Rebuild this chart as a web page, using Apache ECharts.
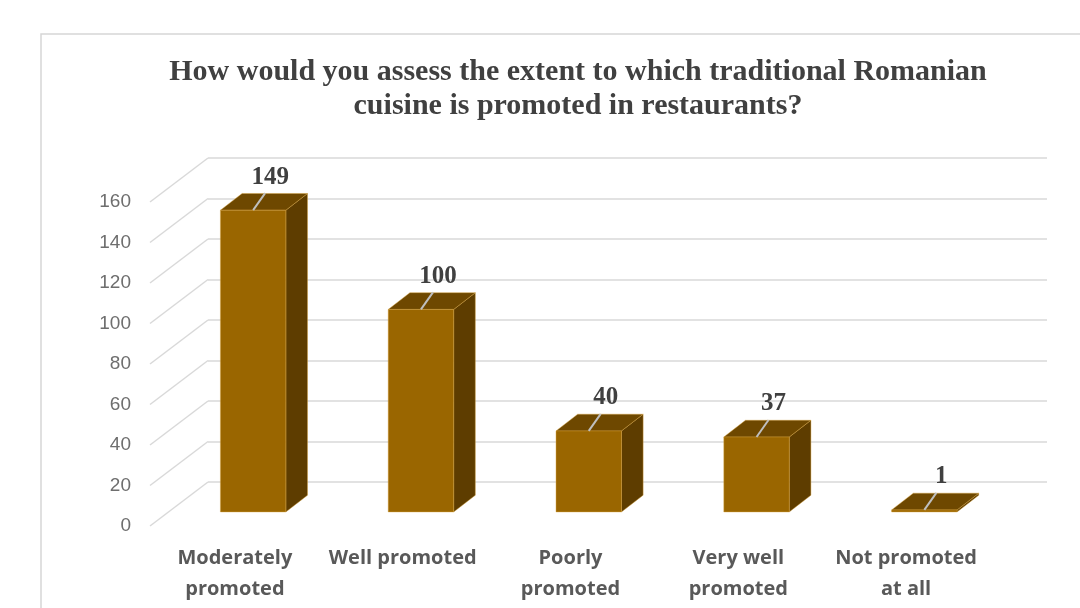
<!DOCTYPE html>
<html>
<head>
<meta charset="utf-8">
<title>Traditional Romanian cuisine in restaurants</title>
<script src="https://cdn.jsdelivr.net/npm/echarts@6/dist/echarts.min.js"></script>
<style>
  html, body { margin: 0; padding: 0; background: #ffffff; }
  #chart { width: 1080px; height: 608px; }
</style>
</head>
<body>
<div id="chart"></div>
<script>
// Survey answers and counts
const categories = [
  'Moderately\npromoted',
  'Well promoted',
  'Poorly\npromoted',
  'Very well\npromoted',
  'Not promoted\nat all'
];
const responses = [149, 100, 40, 37, 1];
const yTicks = [0, 20, 40, 60, 80, 100, 120, 140, 160];

// Oblique depth of the 3D box (front plane -> back wall), in pixels
const DEPTH_X = 57;
const DEPTH_Y = -44;
const BAR_FRONT = 0.32;   // depth fraction of bar front face
const BAR_BACK = 0.70;    // depth fraction of bar back face

const FRONT = { left: 151, right: 90, top: 202, bottom: 82 };
const BACK = {
  left: FRONT.left + DEPTH_X,
  right: FRONT.right - DEPTH_X,
  top: FRONT.top + DEPTH_Y,
  bottom: FRONT.bottom - DEPTH_Y
};

const TITLE_FONT = 'bold 30px "Liberation Serif", "Times New Roman", serif';

const chart = echarts.init(document.getElementById('chart'));

function renderWallDiagonal(params, api) {
  const y = api.coord([0, api.value(0)])[1];
  const x0 = params.coordSys.x - 1;
  return {
    type: 'line',
    shape: { x1: x0, y1: y, x2: x0 + DEPTH_X + 1, y2: y + DEPTH_Y },
    style: { stroke: '#d9d9d9', lineWidth: 1.5 },
    silent: true
  };
}

function renderBar(params, api) {
  const cat = api.value(0);
  const val = api.value(1);
  const base = api.coord([cat, 0]);
  const top = api.coord([cat, val]);
  const bw = api.size([1, 0])[0] * 0.39;
  const fx = DEPTH_X * BAR_FRONT, fy = DEPTH_Y * BAR_FRONT;
  const bx = DEPTH_X * BAR_BACK, by = DEPTH_Y * BAR_BACK;
  const xl = base[0] - bw / 2, xr = base[0] + bw / 2;
  const yb = base[1], yt = top[1];
  const cx = base[0] + fx, cy = yt + fy;
  const edge = 'rgba(214,160,60,0.55)';
  return {
    type: 'group',
    children: [
      {
        type: 'polygon',
        shape: { points: [[xr + fx, yt + fy], [xr + bx, yt + by], [xr + bx, yb + by], [xr + fx, yb + fy]] },
        style: { fill: '#5e3d00', stroke: edge, lineWidth: 0.8 }
      },
      {
        type: 'polygon',
        shape: { points: [[xl + fx, yt + fy], [xr + fx, yt + fy], [xr + bx, yt + by], [xl + bx, yt + by]] },
        style: { fill: '#6e4800', stroke: edge, lineWidth: 0.8 }
      },
      {
        type: 'rect',
        shape: { x: xl + fx, y: yt + fy, width: bw, height: yb - yt },
        style: { fill: '#9a6600', stroke: edge, lineWidth: 0.8 }
      },
      {
        type: 'line',
        shape: { x1: cx, y1: cy, x2: cx + 12, y2: cy - 17 },
        style: { stroke: '#bfbfbf', lineWidth: 2 }
      },
      {
        type: 'text',
        style: {
          text: String(val),
          x: cx + 17,
          y: cy - 33,
          align: 'center',
          verticalAlign: 'middle',
          font: 'bold 25px "Liberation Serif", "Times New Roman", serif',
          fill: '#404040'
        }
      }
    ]
  };
}

const option = {
  animation: false,
  backgroundColor: '#ffffff',
  graphic: [
    {
      type: 'rect',
      z: -10,
      shape: { x: 41, y: 34, width: 1200, height: 800 },
      style: { fill: '#ffffff', stroke: '#d6d6d6', lineWidth: 1.5 }
    },
    {
      type: 'text',
      x: 578,
      y: 72,
      style: {
        text: 'How would you assess the extent to which traditional Romanian',
        x: 0, y: 0,
        align: 'center', verticalAlign: 'middle',
        font: TITLE_FONT,
        fill: '#404040'
      }
    },
    {
      type: 'text',
      x: 578,
      y: 106,
      style: {
        text: 'cuisine is promoted in restaurants?',
        x: 0, y: 0,
        align: 'center', verticalAlign: 'middle',
        font: TITLE_FONT,
        fill: '#404040'
      }
    }
  ],
  grid: [
    { left: FRONT.left, right: FRONT.right, top: FRONT.top, bottom: FRONT.bottom },
    { left: BACK.left, right: BACK.right, top: BACK.top, bottom: BACK.bottom }
  ],
  xAxis: [
    {
      type: 'category',
      gridIndex: 0,
      data: categories,
      axisLine: { show: false },
      axisTick: { show: false },
      axisLabel: {
        interval: 0,
        margin: 17,
        color: '#595959',
        fontFamily: '"Open Sans", Lato, sans-serif',
        fontWeight: 'bold',
        fontSize: 20,
        lineHeight: 31
      }
    },
    {
      type: 'category',
      gridIndex: 1,
      data: categories,
      show: false
    }
  ],
  yAxis: [
    {
      type: 'value',
      gridIndex: 0,
      min: 0,
      max: 160,
      interval: 20,
      axisLine: { show: false },
      axisTick: { show: false },
      splitLine: { show: false },
      axisLabel: {
        margin: 20,
        color: '#6e6e6e',
        fontFamily: '"Liberation Sans", Arial, sans-serif',
        fontSize: 19
      }
    },
    {
      type: 'value',
      gridIndex: 1,
      min: 0,
      max: 160,
      interval: 20,
      axisLine: { show: false },
      axisTick: { show: false },
      axisLabel: { show: false },
      splitLine: { show: true, lineStyle: { color: '#d9d9d9', width: 1.5 } }
    }
  ],
  series: [
    {
      type: 'custom',
      xAxisIndex: 1,
      yAxisIndex: 1,
      silent: true,
      data: [],
      renderItem: function () { return null; }
    },
    {
      type: 'custom',
      xAxisIndex: 0,
      yAxisIndex: 0,
      silent: true,
      z: 1,
      data: yTicks.map(function (v) { return [v]; }),
      encode: { y: 0 },
      renderItem: renderWallDiagonal
    },
    {
      type: 'custom',
      xAxisIndex: 0,
      yAxisIndex: 0,
      z: 5,
      data: responses.map(function (v, i) { return [i, v]; }),
      encode: { x: 0, y: 1 },
      renderItem: renderBar
    }
  ]
};

chart.setOption(option);
</script>
</body>
</html>
